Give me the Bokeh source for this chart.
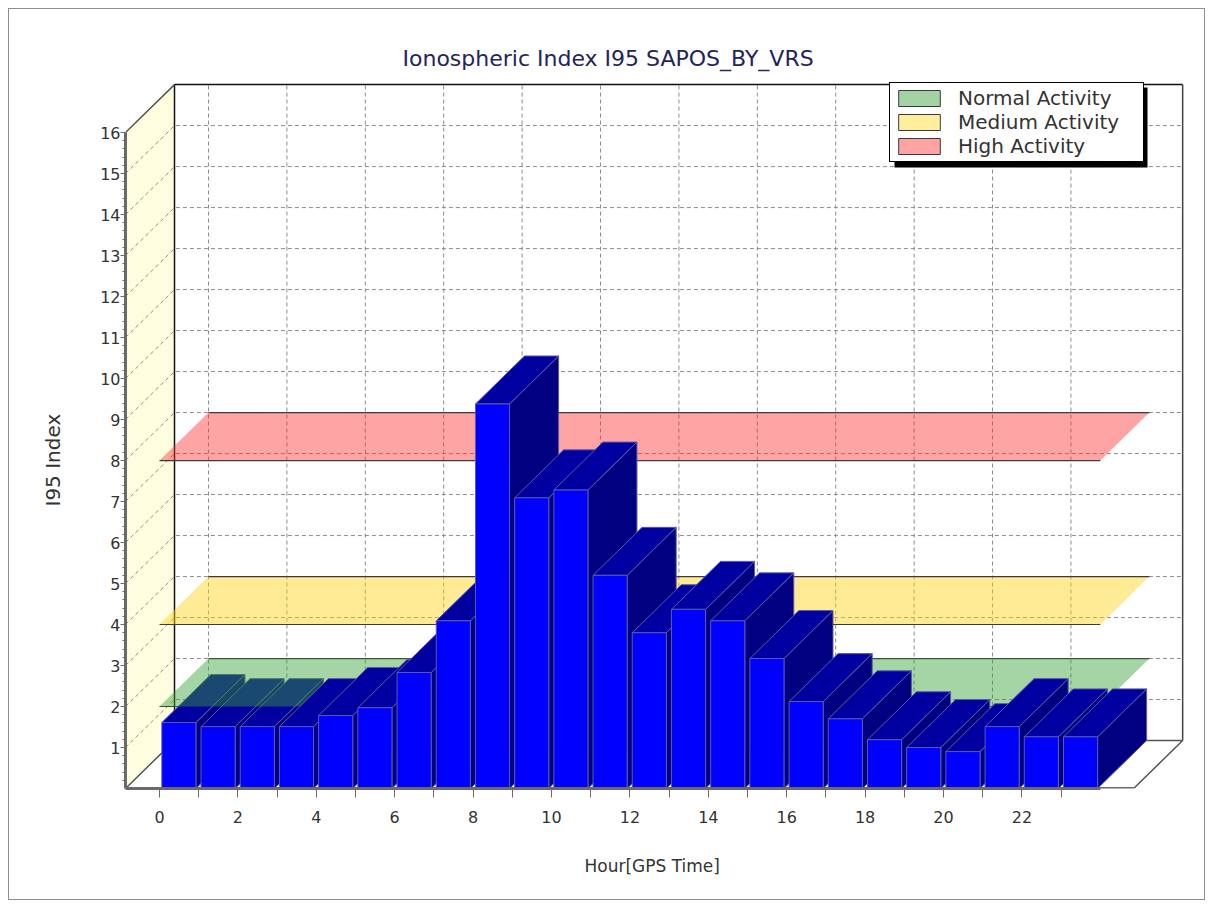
from bokeh.plotting import figure
from bokeh.models import (Range1d, FixedTicker, Legend, LegendItem, BoxAnnotation, ColumnDataSource, Title,
                          InlineStyleSheet)
from bokeh.embed import file_html
from bokeh.resources import INLINE

# ---------------- data ----------------
hours = list(range(24))
i95_index = [1.61, 1.51, 1.51, 1.51, 1.78, 1.97, 2.83, 4.09, 9.38, 7.09, 7.28, 5.20,
             3.80, 4.37, 4.09, 3.17, 2.12, 1.70, 1.19, 1.00, 0.90, 1.51, 1.26, 1.26]
band_names = ["Normal Activity", "Medium Activity", "High Activity"]
band_levels = [2, 4, 8]
band_hours = [0, 24]
y_ticks = list(range(1, 17))
x_tick_labels = {h: (str(h) if h % 2 == 0 else "") for h in hours}

# ---------------- style / geometry ----------------
FONT = "DejaVu Sans"
X0, XR, YMAX = -0.867, 24.85, 16      # front box extents (data units)
DX, DY = 1.25, 1.17                   # 3D depth offset (data units)
BL, BR = 0.06, 0.93                   # bar left/right within the hour
band_fill = ["#379f37", "#ffd316", "#ff3535"]
band_swatch = ["#a3d3a3", "#ffee9c", "#ffa3a3"]
FRONT, TOP, SIDE = "#0000ff", "#0000a0", "#000080"

frame_css = InlineStyleSheet(css=(
    ":host::after { content: ''; position: absolute; left: 8px; top: 8px; right: 7px; bottom: 7px; "
    "border: 1px solid #8e8e8e; pointer-events: none; z-index: 100; }"))

p = figure(width=1212, height=907, x_range=Range1d(X0, 26.3), y_range=Range1d(0, 17.27),
           output_backend="svg", toolbar_location=None,
           min_border_left=125, min_border_right=22, min_border_top=80, min_border_bottom=118,
           background_fill_color="white", border_fill_color="white", outline_line_color=None,
           stylesheets=[frame_css])
p.xgrid.visible = False
p.ygrid.visible = False

# left wall
p.patch([X0, X0 + DX, X0 + DX, X0], [0, DY, YMAX + DY, YMAX], fill_color="#fffde0", line_color=None)

# grid on back wall and left wall
gx, gy = [], []
for v in y_ticks[:-1]:
    gx.append([X0, X0 + DX, XR + DX]); gy.append([v, v + DY, v + DY])
for h in range(0, 24, 2):
    gx.append([h + DX, h + DX]); gy.append([DY, YMAX + DY])
p.multi_line(gx, gy, line_color="#8c8c8c", line_dash="4 3", line_width=1)

# box edges
p.line([X0 + DX, X0 + DX, XR + DX], [DY, YMAX + DY, YMAX + DY], line_color="#111111", line_width=1.5)
p.line([X0, X0 + DX], [YMAX, YMAX + DY], line_color="#555555", line_width=1.5)
p.line([XR + DX, XR + DX], [YMAX + DY, DY], line_color="#444444", line_width=1.5)
p.line([X0, X0 + DX, XR + DX, XR], [0, DY, DY, 0], line_color="#555555", line_width=1.5)
p.line([X0, XR], [0, 0], line_color="#6a6a6a", line_width=3)


def band(i, fill=True, edges=True):
    L = band_levels[i]
    a, b = band_hours
    if fill:
        p.patch([a, b, b + DX, a + DX], [L, L, L + DY, L + DY], fill_color=band_fill[i],
                fill_alpha=0.45, line_color=None)
    if edges:
        p.multi_line([[a, b], [a + DX, b + DX]], [[L, L], [L + DY, L + DY]],
                     line_color="#3c3c3c", line_width=1.2)


def bars(idx):
    xs, ys, cs = [], [], []
    for i in idx:
        h, v = hours[i], i95_index[i]
        xs.append([h + BR, h + BR + DX, h + BR + DX, h + BR]); ys.append([0, DY, v + DY, v]); cs.append(SIDE)
        xs.append([h + BL, h + BR, h + BR + DX, h + BL + DX]); ys.append([v, v, v + DY, v + DY]); cs.append(TOP)
        xs.append([h + BL, h + BR, h + BR, h + BL]); ys.append([0, 0, v, v]); cs.append(FRONT)
    src = ColumnDataSource(dict(xs=xs, ys=ys, c=cs))
    p.patches("xs", "ys", fill_color="c", line_color="#5a5aa8", line_width=1, source=src)


band(1)
band(2)
band(0, fill=False)
bars(range(0, 3))
band(0, edges=False)
bars(range(3, 24))

# axes
xa = p.xaxis[0]
xa.ticker = FixedTicker(ticks=hours)
xa.major_label_overrides = x_tick_labels
xa.bounds = (X0, 24)
xa.axis_line_color = "#6a6a6a"; xa.axis_line_width = 3
xa.major_tick_out = 9; xa.major_tick_in = 0; xa.major_tick_line_color = "#6a6a6a"
xa.minor_tick_line_color = None
xa.major_label_standoff = 13
xa.major_label_text_font = FONT; xa.major_label_text_font_size = "16px"; xa.major_label_text_color = "#333333"

ya = p.yaxis[0]
ya.ticker = FixedTicker(ticks=y_ticks, minor_ticks=[k / 5 for k in range(1, 80) if k % 5])
ya.bounds = (0, YMAX)
ya.axis_line_color = "#6a6a6a"; ya.axis_line_width = 3
ya.major_tick_out = 5; ya.major_tick_in = 0; ya.major_tick_line_color = "#6a6a6a"
ya.minor_tick_out = 3; ya.minor_tick_in = 0; ya.minor_tick_line_color = "#6a6a6a"
ya.major_label_standoff = 0
ya.major_label_text_font = FONT; ya.major_label_text_font_size = "16px"; ya.major_label_text_color = "#333333"

# axis titles (placed as side titles so they can be centred like the original)
p.add_layout(Title(text="Hour[GPS Time]", align="left", offset=459, vertical_align="top", standoff=60,
                   text_font=FONT, text_font_size="17px", text_font_style="normal", text_color="#333333"),
             "below")
p.add_layout(Title(text="I95 Index", align="left", offset=282, vertical_align="bottom", standoff=65,
                   text_font=FONT, text_font_size="20px", text_font_style="normal", text_color="#333333"),
             "left")

# title
p.title.text = "Ionospheric Index I95 SAPOS_BY_VRS"
p.title.align = "left"
p.title.offset = 277
p.title.text_font = FONT
p.title.text_font_size = "22px"
p.title.text_font_style = "normal"
p.title.text_color = "#24245c"
p.title.standoff = 20

# legend (with shadow)
p.add_layout(BoxAnnotation(left=894, right=1147, top=87, bottom=167,
                           left_units="canvas", right_units="canvas", top_units="canvas", bottom_units="canvas",
                           fill_color="black", fill_alpha=1, line_color=None))
items = []
for n, c, L in zip(band_names, band_swatch, band_levels):
    r = p.quad(left=[band_hours[0]], right=[band_hours[1]], bottom=[L], top=[L],
               fill_color=c, line_color="#3a3a3a", visible=False)
    items.append(LegendItem(label=n, renderers=[r]))
legend = Legend(items=items, location=(764, 626))
legend.border_line_color = "black"; legend.border_line_width = 1; legend.border_line_alpha = 1
legend.background_fill_color = "white"; legend.background_fill_alpha = 1
legend.label_text_font = FONT; legend.label_text_font_size = "20px"; legend.label_text_color = "#333333"
legend.glyph_width = 52; legend.glyph_height = 20; legend.label_standoff = 13
legend.label_height = 24
legend.spacing = 0; legend.padding = 3; legend.margin = 0
legend.label_width = 182
p.add_layout(legend)

open("out.html", "w").write(file_html(p, INLINE))
